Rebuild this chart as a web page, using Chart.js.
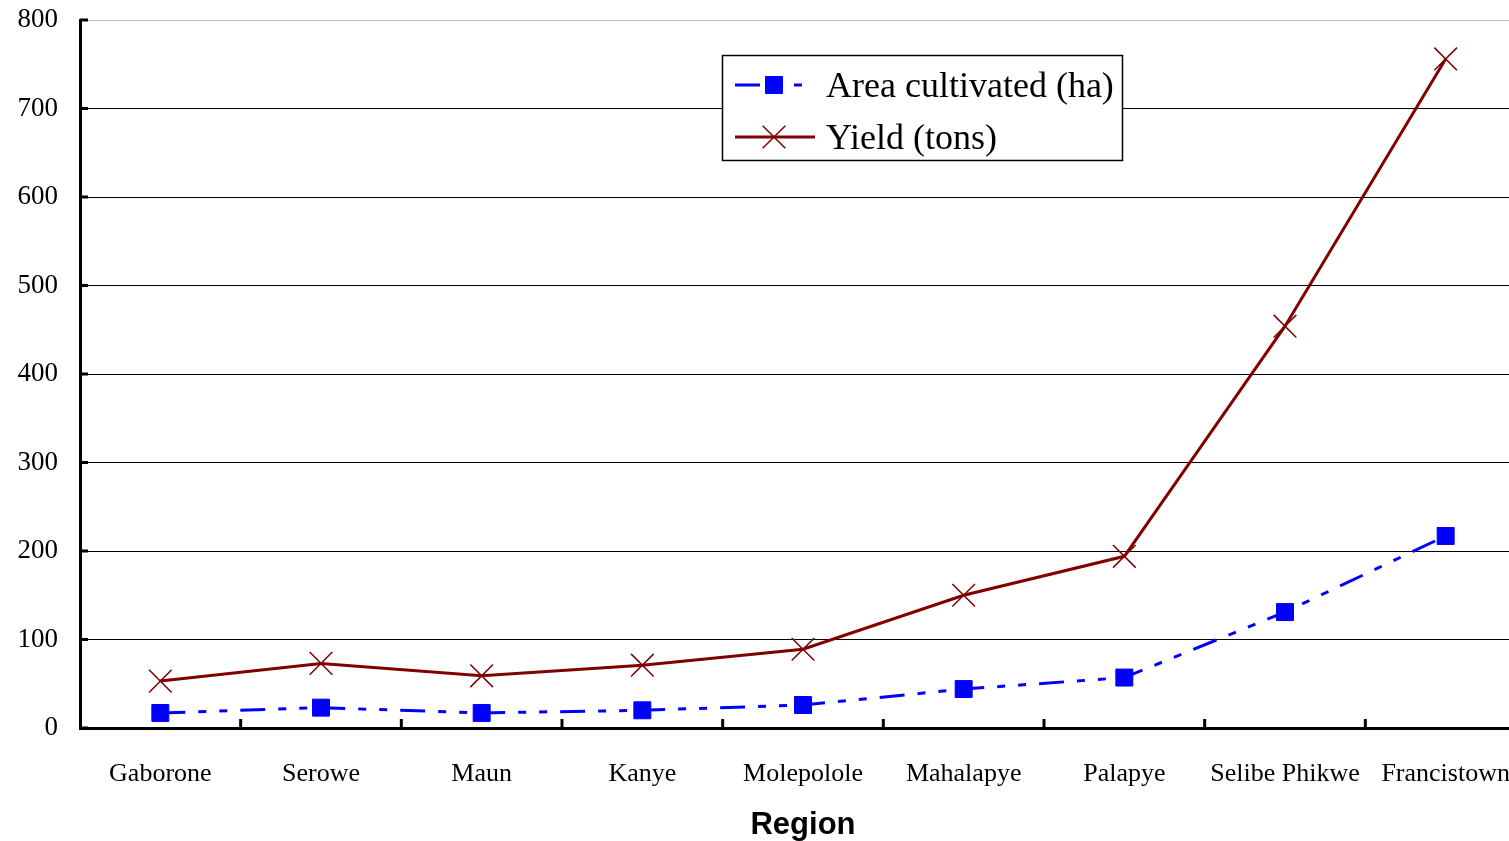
<!DOCTYPE html>
<html>
<head>
<meta charset="utf-8">
<script src="https://cdn.jsdelivr.net/npm/chart.js@4"></script>
<style>
html, body { margin:0; padding:0; overflow:hidden; background:#fff; }
#wrap { position:relative; width:1526px; height:841px; }
canvas { display:block; }
</style>
</head>
<body>
<div id="wrap"><canvas id="myChart"></canvas></div>
<script>
const regions = ['Gaborone', 'Serowe', 'Maun', 'Kanye', 'Molepolole', 'Mahalapye', 'Palapye', 'Selibe Phikwe', 'Francistown']
const areaCultivated = [17, 23, 17, 20, 26, 44, 57, 131, 217]
const yieldTons = [53, 73, 59, 71, 89, 150, 194, 454, 756]
const yMin = 0
const yMax = 800
const yStep = 100

const serif = '"Liberation Serif", "Times New Roman", serif'

// little inward tick marks + boxed legend inside the plot
const extras = {
  id: 'extras',
  afterDraw(chart) {
    const ctx = chart.ctx
    const x = chart.scales.x
    const y = chart.scales.y
    const area = chart.chartArea
    ctx.save()
    ctx.strokeStyle = '#000'
    ctx.lineWidth = 3
    ctx.beginPath()
    for (let i = 0; i < regions.length - 1; i++) {
      const px = (x.getPixelForValue(i) + x.getPixelForValue(i + 1)) / 2
      ctx.moveTo(px, area.bottom)
      ctx.lineTo(px, area.bottom - 9)
    }
    y.ticks.forEach(t => {
      const py = y.getPixelForValue(t.value)
      ctx.moveTo(area.left, py)
      ctx.lineTo(area.left + 8, py)
    })
    ctx.stroke()

    // legend
    const bx = 722, by = 55, bw = 400, bh = 105
    ctx.fillStyle = '#fff'
    ctx.fillRect(bx, by, bw, bh)
    ctx.lineWidth = 1.5
    ctx.strokeStyle = '#000'
    ctx.strokeRect(bx + 0.5, by + 0.5, bw, bh)

    const ds = chart.data.datasets
    const rows = [85, 137]
    ds.forEach((d, i) => {
      const ry = rows[i]
      ctx.strokeStyle = d.borderColor
      ctx.lineWidth = d.borderWidth
      ctx.setLineDash(d.borderDash || [])
      ctx.beginPath()
      ctx.moveTo(735, ry)
      ctx.lineTo(815, ry)
      ctx.stroke()
      ctx.setLineDash([])
      ctx.fillStyle = d.pointBackgroundColor
      ctx.strokeStyle = d.pointBorderColor
      ctx.lineWidth = d.pointBorderWidth
      Chart.helpers.drawPoint(ctx, {
        pointStyle: d.pointStyle,
        radius: d.pointRadius,
        borderWidth: d.pointBorderWidth
      }, 774, ry)
      ctx.fillStyle = '#000'
      ctx.font = '36px ' + serif
      ctx.textBaseline = 'middle'
      ctx.textAlign = 'left'
      ctx.fillText(d.label, 826, ry + 3)
    })
    ctx.restore()
  }
}

new Chart(document.getElementById('myChart'), {
  type: 'line',
  data: {
    labels: regions,
    datasets: [{
      label: 'Area cultivated (ha)',
      data: areaCultivated,
      borderColor: '#0000ff',
      borderWidth: 3,
      borderDash: [25, 13, 8, 13, 8, 13],
      pointStyle: 'rect',
      pointRadius: 12,
      pointBackgroundColor: '#0000ff',
      pointBorderColor: '#0000ff',
      pointBorderWidth: 1,
      tension: 0
    }, {
      label: 'Yield (tons)',
      data: yieldTons,
      borderColor: '#800000',
      borderWidth: 3,
      pointStyle: 'crossRot',
      pointRadius: 16,
      pointBackgroundColor: '#800000',
      pointBorderColor: '#800000',
      pointBorderWidth: 1.5,
      tension: 0
    }]
  },
  options: {
    responsive: true,
    maintainAspectRatio: false,
    animation: false,
    // canvas is a bit wider than the window, so the plot runs past the right edge
    layout: { autoPadding: false, padding: { top: 20, left: 0, right: 0, bottom: 0 } },
    plugins: {
      legend: { display: false },
      tooltip: { enabled: false }
    },
    scales: {
      x: {
        offset: true,
        grid: { display: false },
        border: { display: true, color: '#000', width: 3 },
        ticks: {
          color: '#000',
          font: { family: serif, size: 26 },
          padding: 23,
          maxRotation: 0,
          autoSkip: false
        },
        title: {
          display: true,
          text: 'Region',
          color: '#000',
          font: { family: '"Liberation Sans", Arial, sans-serif', size: 31, weight: 'bold', lineHeight: 1 },
          padding: { top: 0, bottom: 0 }
        },
        afterFit(scale) {
          scale.height = 113
          scale.paddingLeft = 0
          scale.paddingRight = 0
        }
      },
      y: {
        min: yMin,
        max: yMax,
        ticks: {
          stepSize: yStep,
          color: '#000',
          font: { family: serif, size: 27 },
          padding: 22
        },
        grid: {
          drawTicks: false,
          lineWidth: 1,
          color: c => c.tick && c.tick.value === yMax ? '#c0c0c0' : '#000'
        },
        border: { display: true, color: '#000', width: 3 },
        afterFit(scale) {
          scale.width = 80
          scale.paddingTop = 0
          scale.paddingBottom = 0
        }
      }
    }
  },
  plugins: [extras]
})
</script>
</body>
</html>
